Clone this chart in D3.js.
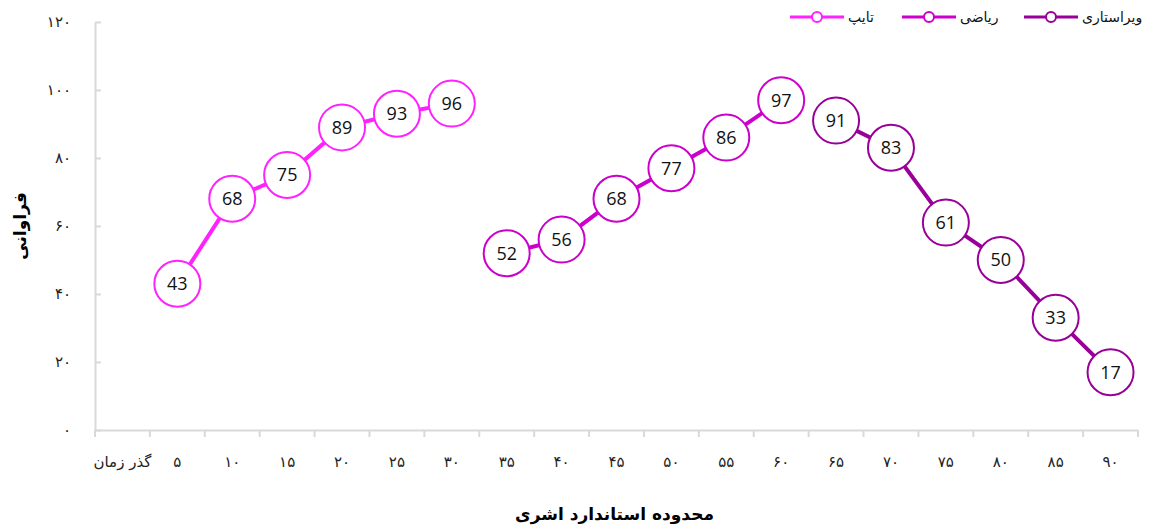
<!DOCTYPE html>
<html>
<head>
<meta charset="utf-8">
<script src="https://cdn.jsdelivr.net/npm/d3@7"></script>
<style>
  body { margin: 0; background: #fff; }
  svg { display: block; font-family: "Open Sans", "DejaVu Sans", sans-serif; }
  .axis path, .axis line { stroke: #d9d9d9; stroke-width: 2; }
  .axis text { font-family: "DejaVu Sans", sans-serif; font-size: 15px; fill: #222; }
</style>
</head>
<body>
<svg id="chart" width="1151" height="531"></svg>
<script>
// categories along the x axis
var categories = ['گذر زمان', '۵', '۱۰', '۱۵', '۲۰', '۲۵', '۳۰', '۳۵', '۴۰', '۴۵',
  '۵۰', '۵۵', '۶۰', '۶۵', '۷۰', '۷۵', '۸۰', '۸۵', '۹۰'];
var yTicks = [0, 20, 40, 60, 80, 100, 120];
var yTickLabels = ['۰', '۲۰', '۴۰', '۶۰', '۸۰', '۱۰۰', '۱۲۰'];

// series: category -> value
var typingCats = ['۵', '۱۰', '۱۵', '۲۰', '۲۵', '۳۰'];
var typingValues = [43, 68, 75, 89, 93, 96];
var mathCats = ['۳۵', '۴۰', '۴۵', '۵۰', '۵۵', '۶۰'];
var mathValues = [52, 56, 68, 77, 86, 97];
var editCats = ['۶۵', '۷۰', '۷۵', '۸۰', '۸۵', '۹۰'];
var editValues = [91, 83, 61, 50, 33, 17];

var seriesNames = ['تایپ', 'ریاضی', 'ویراستاری'];
var colors = ['#ff22ff', '#cc00cc', '#990099'];

var series = [
  { name: seriesNames[0], color: colors[0], cats: typingCats, values: typingValues },
  { name: seriesNames[1], color: colors[1], cats: mathCats, values: mathValues },
  { name: seriesNames[2], color: colors[2], cats: editCats, values: editValues }
];

var svg = d3.select('#chart');
var margin = { left: 95, right: 13, top: 22, bottom: 101 };
var width = 1151, height = 531;

var x = d3.scaleBand()
  .domain(categories)
  .range([margin.left, width - margin.right]);

var y = d3.scaleLinear()
  .domain([0, 120])
  .range([height - margin.bottom, margin.top]);

// y axis (ticks point into the plot)
var yAxis = svg.append('g')
  .attr('class', 'axis')
  .attr('transform', 'translate(' + margin.left + ',0)')
  .call(d3.axisLeft(y).tickValues(yTicks).tickSizeInner(-6).tickSizeOuter(0)
    .tickFormat(function(d, i) { return yTickLabels[i]; }));
yAxis.selectAll('text').attr('x', -24).attr('text-anchor', 'end');

// x axis
var xAxis = svg.append('g')
  .attr('class', 'axis')
  .attr('transform', 'translate(0,' + y(0) + ')')
  .call(d3.axisBottom(x).tickSize(0).tickSizeOuter(0));
xAxis.selectAll('text').attr('y', 32).attr('dy', '0.35em');
// tick marks at band boundaries
xAxis.selectAll('.bound')
  .data(categories.concat(['end']))
  .enter()
  .append('line')
  .attr('class', 'bound')
  .attr('x1', function(d, i) { return margin.left + i * x.step(); })
  .attr('x2', function(d, i) { return margin.left + i * x.step(); })
  .attr('y1', 0)
  .attr('y2', 7);

// axis titles
svg.append('text')
  .attr('transform', 'translate(20,' + y(60) + ') rotate(-90)')
  .attr('text-anchor', 'middle')
  .attr('dy', '0.35em')
  .style('font-family', '"DejaVu Sans", sans-serif')
  .style('font-weight', 'bold')
  .style('font-size', '17px')
  .text('فراوانی');

svg.append('text')
  .attr('x', (margin.left + width - margin.right) / 2 - 2)
  .attr('y', 520)
  .attr('text-anchor', 'middle')
  .style('font-family', '"DejaVu Sans", sans-serif')
  .style('font-weight', 'bold')
  .style('font-size', '17px')
  .text('محدوده استاندارد اشری');

var line = d3.line()
  .x(function(d) { return x(d.cat) + x.bandwidth() / 2; })
  .y(function(d) { return y(d.value); });

series.forEach(function(s) {
  var pts = s.cats.map(function(c, i) { return { cat: c, value: s.values[i] }; });
  var g = svg.append('g');
  g.append('path')
    .datum(pts)
    .attr('d', line)
    .attr('fill', 'none')
    .attr('stroke', s.color)
    .attr('stroke-width', 4);
  var m = g.selectAll('.pt').data(pts).enter().append('g')
    .attr('transform', function(d) {
      return 'translate(' + (x(d.cat) + x.bandwidth() / 2) + ',' + y(d.value) + ')';
    });
  m.append('circle')
    .attr('r', 23)
    .attr('fill', '#fff')
    .attr('stroke', s.color)
    .attr('stroke-width', 2);
  m.append('text')
    .attr('text-anchor', 'middle')
    .attr('dy', '0.36em')
    .style('font-size', '18px')
    .style('fill', '#111')
    .text(function(d) { return d.value; });
});

// legend (top right)
var legendX = [790, 902, 1024];
var legend = svg.append('g').attr('transform', 'translate(0,17)');
series.forEach(function(s, i) {
  var lg = legend.append('g').attr('transform', 'translate(' + legendX[i] + ',0)');
  lg.append('line')
    .attr('x1', 0).attr('x2', 54)
    .attr('stroke', s.color).attr('stroke-width', 3);
  lg.append('circle')
    .attr('cx', 27).attr('r', 5)
    .attr('fill', '#fff').attr('stroke', s.color).attr('stroke-width', 2);
  lg.append('text')
    .attr('x', 58)
    .attr('dy', '0.35em')
    .style('font-family', '"DejaVu Sans", sans-serif')
    .style('font-size', '14px')
    .style('fill', '#111')
    .text(s.name);
});
</script>
</body>
</html>
